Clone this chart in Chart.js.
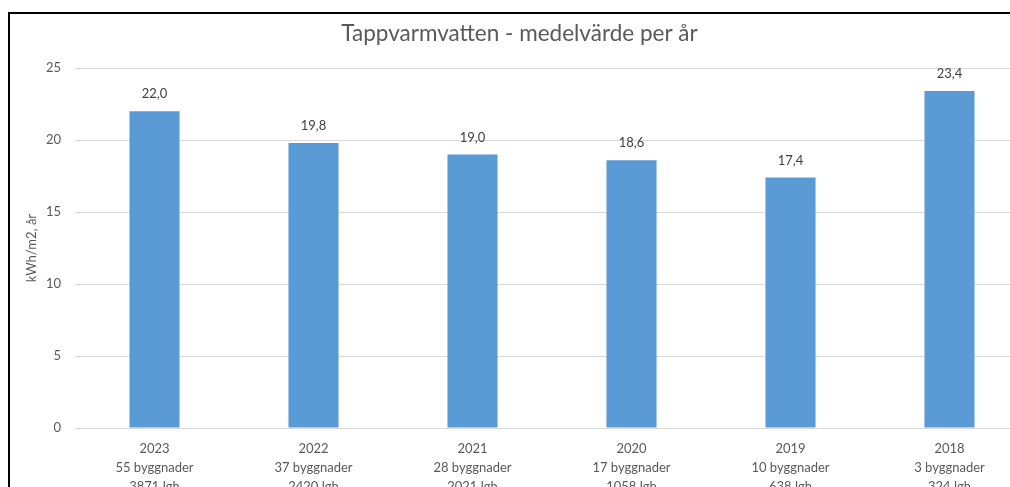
<!DOCTYPE html>
<html lang="sv">
<head>
<meta charset="utf-8">
<title>Tappvarmvatten - medelvärde per år</title>
<script src="https://cdn.jsdelivr.net/npm/chart.js@4.4.1/dist/chart.umd.min.js"></script>
<style>
  html, body { margin: 0; padding: 0; background: #fff; overflow: hidden; }
  body { width: 1010px; height: 487px; position: relative; }
  .frame {
    position: absolute; left: 8px; top: 12px;
    border-left: 2px solid #000; border-top: 2px solid #000;
    width: 1040px; height: 500px;
  }
  canvas { display: block; }
</style>
</head>
<body>
<div class="frame">
  <canvas id="chart" width="1030" height="485"></canvas>
</div>
<script>
// Data
const years = ["2023", "2022", "2021", "2020", "2019", "2018"];
const buildings = ["55 byggnader", "37 byggnader", "28 byggnader", "17 byggnader", "10 byggnader", "3 byggnader"];
const apartments = ["3871 lgh", "2420 lgh", "2021 lgh", "1058 lgh", "638 lgh", "324 lgh"];
const values = [22.0, 19.8, 19.0, 18.6, 17.4, 23.4];
const yTicks = [0, 5, 10, 15, 20, 25];

const BAR_COLOR = "#5b9bd5";
const GRID_COLOR = "#d9d9d9";
const TEXT = "#595959";
const FONT = "Lato, 'Open Sans', sans-serif";

Chart.defaults.font.family = FONT;
Chart.defaults.color = TEXT;

// Etiketter ovanför staplarna, med decimalkomma
const valueLabels = {
  id: "valueLabels",
  afterDatasetsDraw(chart) {
    const { ctx } = chart;
    const meta = chart.getDatasetMeta(0);
    ctx.save();
    ctx.font = "13px " + FONT;
    ctx.fillStyle = "#404040";
    ctx.textAlign = "center";
    ctx.textBaseline = "middle";
    meta.data.forEach((bar, i) => {
      ctx.fillText(values[i].toFixed(1).replace(".", ","), bar.x, bar.y - 17);
    });
    ctx.restore();
  },
};

const labels = years.map((y, i) => [y, buildings[i], apartments[i]]);

new Chart(document.getElementById("chart"), {
  type: "bar",
  data: {
    labels,
    datasets: [{
      data: values,
      backgroundColor: BAR_COLOR,
      borderWidth: 0,
      categoryPercentage: 1,
      barPercentage: 0.315,
    }],
  },
  options: {
    responsive: false,
    animation: false,
    layout: { padding: { top: 0, right: 11, bottom: 0, left: 0 } },
    scales: {
      x: {
        grid: { display: false },
        border: { display: false },
        ticks: {
          color: TEXT,
          font: { size: 13, lineHeight: 1.46 },
          padding: 3,
          maxRotation: 0,
          autoSkip: false,
        },
      },
      y: {
        min: 0,
        max: 25,
        afterBuildTicks: (scale) => { scale.ticks = yTicks.map((v) => ({ value: v })); },
        afterFit: (scale) => { scale.width = 65; },
        grid: { color: GRID_COLOR, drawTicks: false },
        border: { display: false },
        ticks: { color: TEXT, font: { size: 13 }, padding: 14 },
        title: {
          display: true,
          text: "kWh/m2, år",
          color: TEXT,
          font: { size: 13 },
          padding: { top: 14, bottom: 0 },
        },
      },
    },
    plugins: {
      legend: { display: false },
      tooltip: { enabled: false },
      title: {
        display: true,
        text: "Tappvarmvatten - medelvärde per år",
        color: TEXT,
        font: { size: 22.5, weight: "normal" },
        padding: { top: 6, bottom: 21 },
      },
    },
  },
  plugins: [valueLabels],
});
</script>
</body>
</html>
